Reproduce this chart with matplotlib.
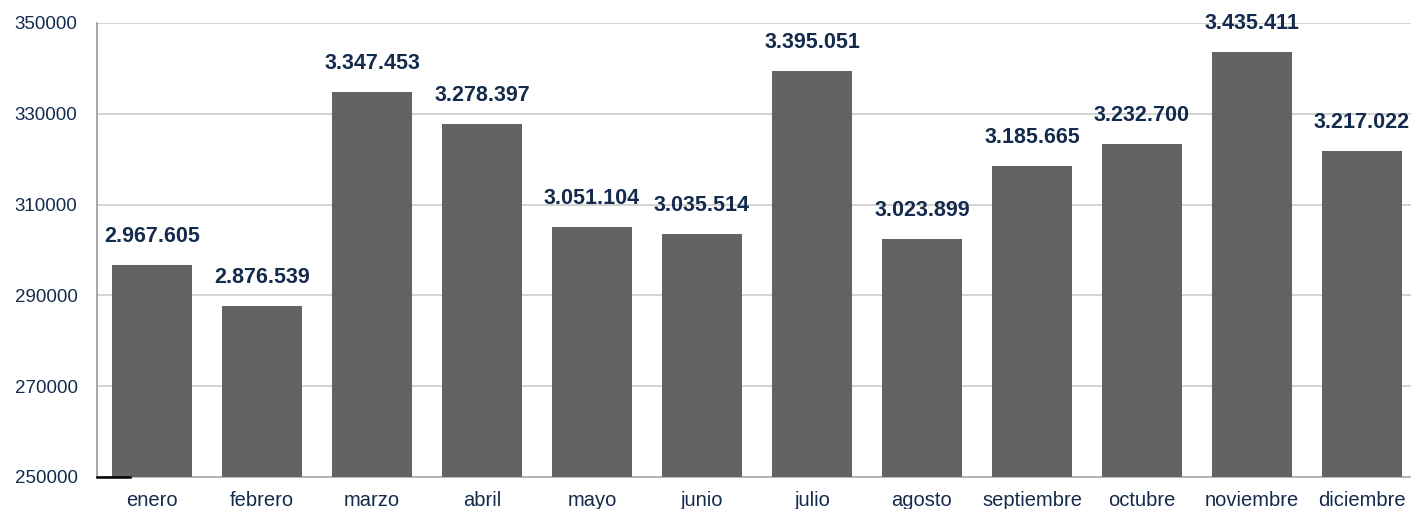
import matplotlib
matplotlib.use("Agg")
import matplotlib.pyplot as plt

months = ["enero", "febrero", "marzo", "abril", "mayo", "junio", "julio",
          "agosto", "septiembre", "octubre", "noviembre", "diciembre"]
label_values = [2967605, 2876539, 3347453, 3278397, 3051104, 3035514, 3395051,
                3023899, 3185665, 3232700, 3435411, 3217022]
bar_values = [v / 10 for v in label_values]
y_ticks = [250000, 270000, 290000, 310000, 330000, 350000]

navy = "#142b4d"
plt.rcParams['font.family'] = ['Liberation Sans', 'DejaVu Sans']

fig = plt.figure(figsize=(14.11, 5.09), dpi=100)
ax = fig.add_axes([97/1411, 32/509, 1320/1411, (477-23)/509])

x = list(range(len(months)))
ax.bar(x, bar_values, width=0.73, color="#636363", zorder=3)
ax.set_xlim(-0.5, len(months) - 0.5)
ax.set_ylim(250000, 350000)
ax.set_yticks(y_ticks)
ax.set_yticklabels([str(t) for t in y_ticks])
ax.set_xticks(x)
ax.set_xticklabels(months)
ax.tick_params(axis='both', length=0, colors=navy)
ax.tick_params(axis='y', pad=14, labelsize=13.5)
ax.tick_params(axis='x', pad=10, labelsize=14.5)
ax.grid(axis='y', color="#cccccc", linewidth=1.2, zorder=0)
for s in ['top', 'right']:
    ax.spines[s].set_visible(False)
ax.spines['left'].set_color("#999999")
ax.spines['left'].set_linewidth(1.2)
ax.spines['bottom'].set_color("#aaaaaa")
ax.spines['bottom'].set_linewidth(1.2)
ax.plot([-0.5, -0.2], [250000, 250000], color="black", linewidth=1.8,
        clip_on=False, zorder=4)

for xi, bv, lv in zip(x, bar_values, label_values):
    txt = f"{lv:,}".replace(",", ".")
    ax.annotate(txt, (xi, bv), xytext=(0, 13), textcoords="offset points",
                ha="center", va="bottom", fontsize=15.5, fontweight="bold",
                color=navy)

fig.savefig("out.png", dpi=100)
